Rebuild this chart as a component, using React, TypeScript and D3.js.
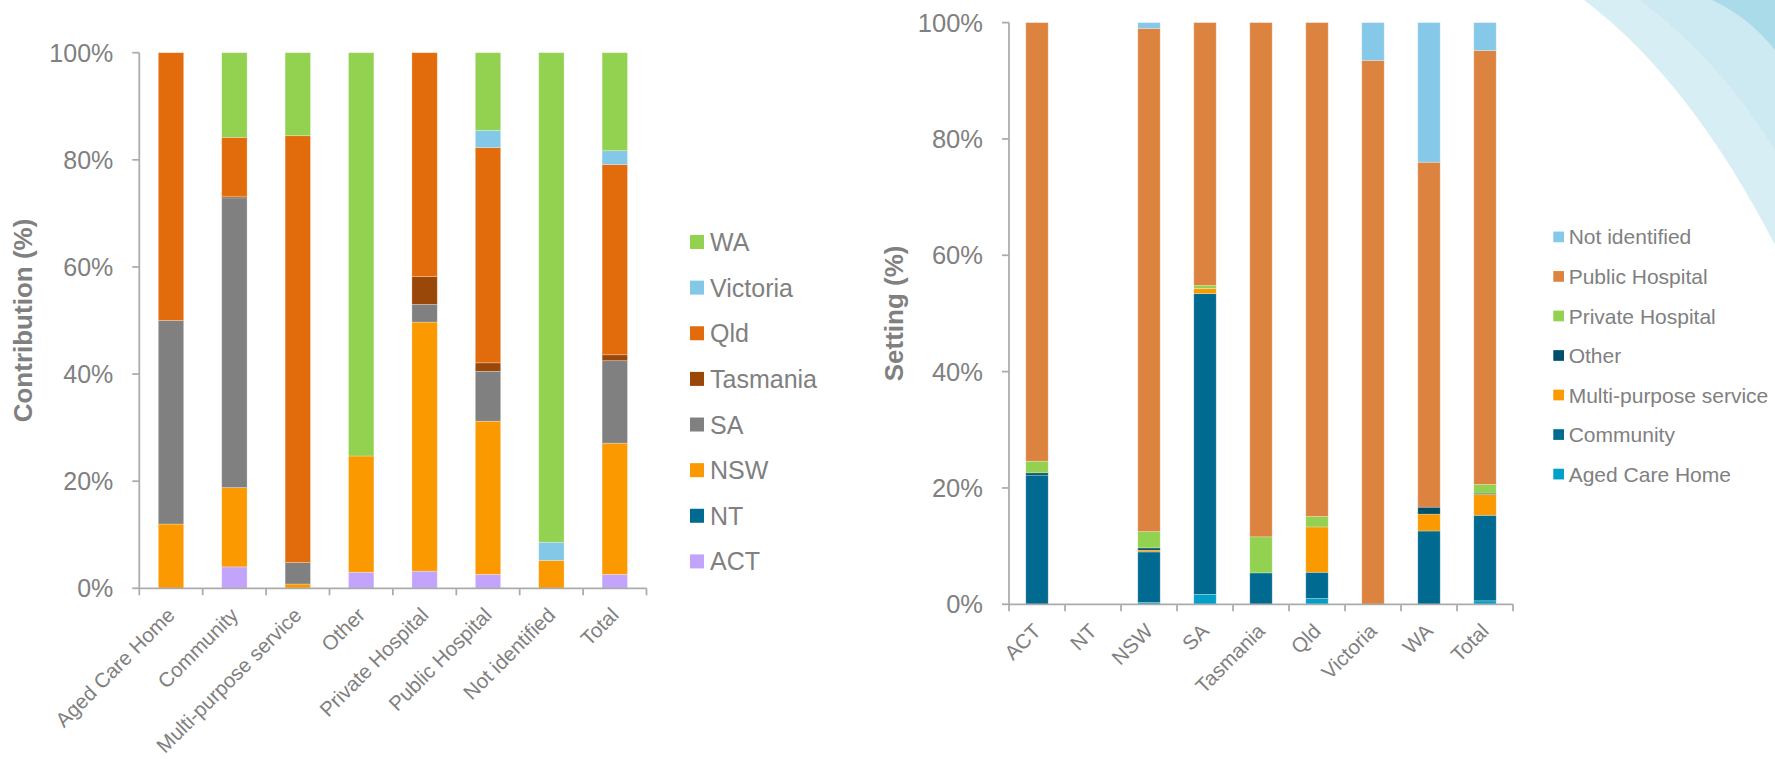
import React from "react";
import * as d3 from "d3";

// ---------- Left chart: contribution of each state to each setting ----------
const settingCategories = [
  "Aged Care Home",
  "Community",
  "Multi-purpose service",
  "Other",
  "Private Hospital",
  "Public Hospital",
  "Not identified",
  "Total",
];
// stacking order, bottom to top
const stateKeys = ["ACT", "NT", "NSW", "SA", "Tasmania", "Qld", "Victoria", "WA"];
const actValues = [0, 4.0, 0, 3.0, 3.2, 2.6, 0, 2.6];
const ntValues = [0, 0, 0, 0, 0, 0, 0, 0];
const nswValues = [12.0, 14.8, 0.8, 21.7, 46.5, 28.6, 5.2, 24.5];
const saValues = [38.0, 54.1, 4.0, 0, 3.3, 9.3, 0, 15.4];
const tasValues = [0, 0.3, 0, 0, 5.2, 1.6, 0, 1.1];
const qldValues = [50.0, 11.0, 79.7, 0, 41.8, 40.2, 0, 35.5];
const vicValues = [0, 0, 0, 0, 0, 3.2, 3.4, 2.6];
const waValues = [0, 15.8, 15.5, 75.3, 0, 14.5, 91.4, 18.3];
const stateColors = ["#C3A4FC", "#016A91", "#FB9A00", "#808080", "#9A470A", "#E26B0B", "#84C8E8", "#93D150"];

// ---------- Right chart: setting mix within each state ----------
const stateCategories = ["ACT", "NT", "NSW", "SA", "Tasmania", "Qld", "Victoria", "WA", "Total"];
const settingKeys = [
  "Aged Care Home",
  "Community",
  "Multi-purpose service",
  "Other",
  "Private Hospital",
  "Public Hospital",
  "Not identified",
];
const agedCareValues = [0, 0, 0.3, 1.7, 0, 1.0, 0, 0, 0.6];
const communityValues = [22.2, 0, 8.7, 51.7, 5.4, 4.5, 0, 12.6, 14.7];
const multiPurposeValues = [0, 0, 0.3, 0.9, 0, 7.8, 0, 2.9, 3.6];
const otherValues = [0.4, 0, 0.4, 0, 0, 0, 0, 1.2, 0.2];
const privateValues = [2.0, 0, 2.8, 0.5, 6.2, 1.8, 0, 0, 1.5];
const publicValues = [75.4, 0, 86.5, 45.2, 88.4, 84.9, 93.5, 59.3, 74.6];
const notIdentifiedValues = [0, 0, 1.0, 0, 0, 0, 6.5, 24.0, 4.8];
const settingColors = ["#00A0C8", "#006A91", "#FB9A00", "#004F6A", "#93D150", "#DB833F", "#86C8E8"];

const yTicks = [0, 20, 40, 60, 80, 100];

const FONT = "'Liberation Sans', Arial, Helvetica, sans-serif";
const TEXT = "#808080";
const AXIS = "#ABABAB";

type Row = Record<string, number | string>;

function buildRows(categories: string[], keys: string[], series: number[][]): Row[] {
  return categories.map((c, i) => {
    const r: Row = { category: c };
    keys.forEach((k, j) => {
      r[k] = series[j][i];
    });
    return r;
  });
}

interface ChartProps {
  categories: string[];
  keys: string[];
  series: number[][];
  colors: string[];
  xRange: [number, number];
  yRange: [number, number];
  tickFont: number;
  labelFont: number;
  title: string;
  titleX: number;
  legendX: number;
  legendY0: number;
  legendStep: number;
  legendBox: number;
  legendFont: number;
  legendGap: number;
}

function StackedChart(p: ChartProps) {
  const rows = buildRows(p.categories, p.keys, p.series);
  const stack = d3.stack<Row>().keys(p.keys).value((d, k) => d[k] as number);
  const layers = stack(rows);

  const x = d3.scaleBand<string>().domain(p.categories).range(p.xRange).paddingInner(0.6).paddingOuter(0.3);
  const y = d3.scaleLinear().domain([0, 100]).range(p.yRange);
  const color = d3.scaleOrdinal<string, string>().domain(p.keys).range(p.colors);

  const [x0, x1] = p.xRange;
  const [yBottom, yTop] = p.yRange;
  const step = x.step();
  const boundaries = d3.range(p.categories.length + 1).map((i) => x0 + i * step);
  const legendOrder = [...p.keys].reverse();

  return (
    <g>
      {/* bars */}
      {layers.map((layer) => (
        <g key={layer.key} fill={color(layer.key)}>
          {layer.map((d, i) => {
            const h = y(d[0]) - y(d[1]);
            if (h <= 0) return null;
            return (
              <rect
                key={i}
                x={x(p.categories[i])}
                y={y(d[1])}
                width={x.bandwidth()}
                height={h}
                stroke="rgba(255,255,255,0.35)"
                strokeWidth={0.75}
              />
            );
          })}
        </g>
      ))}

      {/* y axis */}
      <line x1={x0} x2={x0} y1={yTop} y2={yBottom} stroke={AXIS} strokeWidth={1.75} />
      {yTicks.map((t) => (
        <g key={t}>
          <line x1={x0 - 7} x2={x0} y1={y(t)} y2={y(t)} stroke={AXIS} strokeWidth={1.75} />
          <text
            x={x0 - 26}
            y={y(t)}
            dy="0.36em"
            textAnchor="end"
            fontFamily={FONT}
            fontSize={p.tickFont}
            fill={TEXT}
          >
            {t}%
          </text>
        </g>
      ))}

      {/* x axis */}
      <line x1={x0} x2={x1} y1={yBottom} y2={yBottom} stroke={AXIS} strokeWidth={1.75} />
      {boundaries.map((bx, i) => (
        <line key={i} x1={bx} x2={bx} y1={yBottom} y2={yBottom + 7} stroke={AXIS} strokeWidth={1.75} />
      ))}
      {p.categories.map((c) => {
        const cx = (x(c) as number) + x.bandwidth() / 2;
        return (
          <text
            key={c}
            transform={`translate(${cx},${yBottom + 23}) rotate(-45)`}
            dy="0.35em"
            textAnchor="end"
            fontFamily={FONT}
            fontSize={p.labelFont}
            fill={TEXT}
          >
            {c}
          </text>
        );
      })}

      {/* axis title */}
      <text
        transform={`translate(${p.titleX},${(yTop + yBottom) / 2}) rotate(-90)`}
        textAnchor="middle"
        fontFamily={FONT}
        fontWeight="bold"
        fontSize={26}
        fill={TEXT}
      >
        {p.title}
      </text>

      {/* legend */}
      {legendOrder.map((k, i) => {
        const cy = p.legendY0 + i * p.legendStep;
        return (
          <g key={k}>
            <rect
              x={p.legendX}
              y={cy - p.legendBox / 2}
              width={p.legendBox}
              height={p.legendBox}
              fill={color(k)}
            />
            <text
              x={p.legendX + p.legendBox + p.legendGap}
              y={cy}
              dy="0.36em"
              fontFamily={FONT}
              fontSize={p.legendFont}
              fill={TEXT}
            >
              {k}
            </text>
          </g>
        );
      })}
    </g>
  );
}

export default function App() {
  return (
    <svg
      width={1775}
      height={759}
      viewBox="0 0 1775 759"
      style={{ position: "absolute", left: 0, top: 0, background: "#ffffff" }}
    >
      {/* decorative swoosh in the top-right corner */}
      <path d="M1584,0 Q1690,80 1775,245 L1775,0 Z" fill="#D7EEF4" />
      <path d="M1640,0 Q1720,60 1775,150 L1775,0 Z" fill="#CDE9F1" />
      <path d="M1712,0 Q1750,18 1775,50 L1775,0 Z" fill="#A9DCE8" />

      <StackedChart
        categories={settingCategories}
        keys={stateKeys}
        series={[actValues, ntValues, nswValues, saValues, tasValues, qldValues, vicValues, waValues]}
        colors={stateColors}
        xRange={[139.3, 646.5]}
        yRange={[588.3, 52.7]}
        tickFont={25}
        labelFont={20.5}
        title="Contribution (%)"
        titleX={32}
        legendX={690}
        legendY0={242}
        legendStep={45.63}
        legendBox={14}
        legendFont={25}
        legendGap={6}
      />

      <StackedChart
        categories={stateCategories}
        keys={settingKeys}
        series={[
          agedCareValues,
          communityValues,
          multiPurposeValues,
          otherValues,
          privateValues,
          publicValues,
          notIdentifiedValues,
        ]}
        colors={settingColors}
        xRange={[1009, 1513]}
        yRange={[604.3, 22.6]}
        tickFont={25.5}
        labelFont={20.5}
        title="Setting (%)"
        titleX={903}
        legendX={1553.3}
        legendY0={236.9}
        legendStep={39.53}
        legendBox={10.7}
        legendFont={21}
        legendGap={4.7}
      />
    </svg>
  );
}
